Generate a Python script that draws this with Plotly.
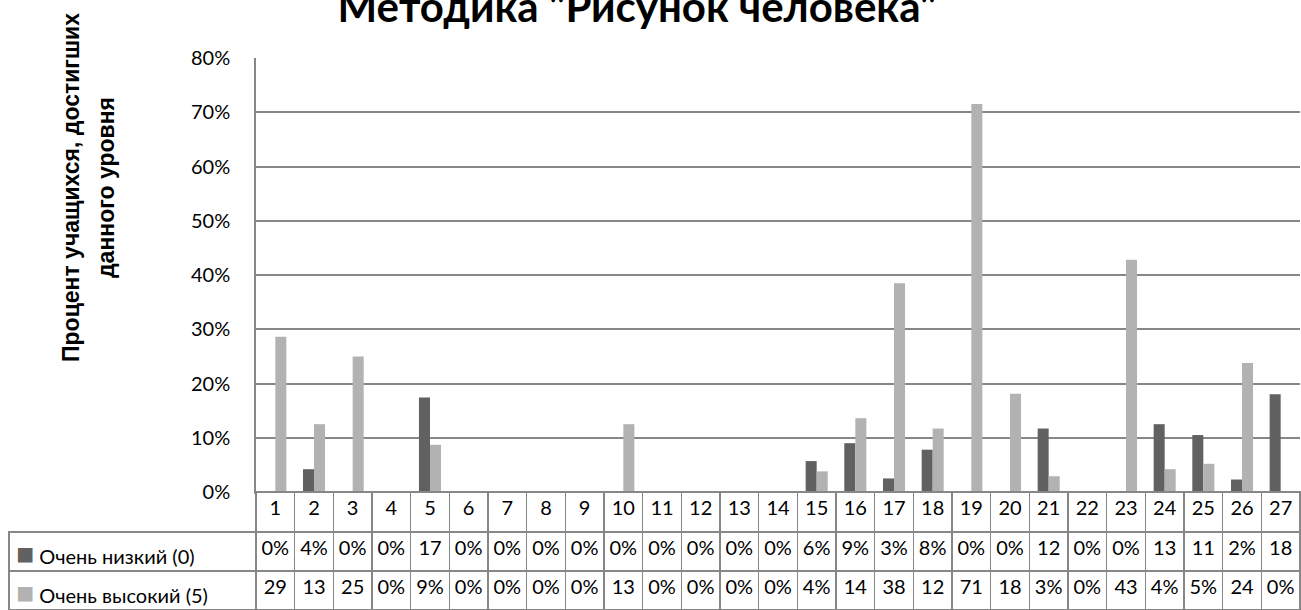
import plotly.graph_objects as go

categories = [str(i) for i in range(1, 28)]
series_names = ["Очень низкий (0)", "Очень высокий (5)"]
low_values = [0.0, 4.2, 0.0, 0.0, 17.4, 0.0, 0.0, 0.0, 0.0, 0.0, 0.0, 0.0, 0.0, 0.0,
              5.7, 9.0, 2.5, 7.8, 0.0, 0.0, 11.7, 0.0, 0.0, 12.5, 10.5, 2.3, 18.0]
high_values = [28.6, 12.5, 25.0, 0.0, 8.7, 0.0, 0.0, 0.0, 0.0, 12.5, 0.0, 0.0, 0.0, 0.0,
               3.8, 13.6, 38.5, 11.7, 71.5, 18.1, 2.9, 0.0, 42.8, 4.2, 5.2, 23.8, 0.0]
low_labels = ["0%", "4%", "0%", "0%", "17", "0%", "0%", "0%", "0%", "0%", "0%", "0%", "0%", "0%",
              "6%", "9%", "3%", "8%", "0%", "0%", "12", "0%", "0%", "13", "11", "2%", "18"]
high_labels = ["29", "13", "25", "0%", "9%", "0%", "0%", "0%", "0%", "13", "0%", "0%", "0%", "0%",
               "4%", "14", "38", "12", "71", "18", "3%", "0%", "43", "4%", "5%", "24", "0%"]
y_ticks = [0, 10, 20, 30, 40, 50, 60, 70, 80]

DARK = "#616161"
LIGHT = "#B2B2B2"
GRID = "#878787"
CLEAR = "rgba(0,0,0,0)"
W, H = 1301, 610
FONT = "Lato"

fig = go.Figure()
fig.add_trace(go.Bar(x=categories, y=[v / 100 for v in low_values], name=series_names[0],
                     marker=dict(color=DARK, line=dict(width=0)), xaxis="x", yaxis="y"))
fig.add_trace(go.Bar(x=categories, y=[v / 100 for v in high_values], name=series_names[1],
                     marker=dict(color=LIGHT, line=dict(width=0)), xaxis="x", yaxis="y"))

cell_values = [["", ""]] + [[low_labels[i], high_labels[i]] for i in range(len(categories))]

x0_px, x_plot0, x1_px = 9, 256, 1300
y_axis_px, y_top_px = 492, 58
header_h, row_h = 40, 39
col_w = (x1_px - x_plot0) / len(categories)
n = len(categories)
fig.add_trace(go.Table(
    domain=dict(x=[x0_px / W, x1_px / W], y=[0, (H - y_axis_px) / H]),
    columnwidth=[x_plot0 - x0_px] + [col_w] * n,
    header=dict(values=[""] + categories, height=header_h,
                fill=dict(color=[CLEAR] + ["white"] * n),
                line=dict(color=[CLEAR] + [GRID] * n, width=1.5),
                font=dict(family=FONT, size=20, color="black"), align="center"),
    cells=dict(values=cell_values, height=row_h,
               fill=dict(color="white"),
               line=dict(color=GRID, width=1.5),
               font=dict(family=FONT, size=20, color="black"),
               align=["left"] + ["center"] * n),
))

fig.update_layout(
    width=W, height=H,
    margin=dict(l=0, r=0, t=0, b=0, autoexpand=False),
    paper_bgcolor="white", plot_bgcolor="white",
    barmode="group", bargap=0.43, bargroupgap=0,
    showlegend=False,
    font=dict(family=FONT, color="black"),
    title=dict(text="<b>Методика \"Рисунок человека\"</b>", x=637 / W, xanchor="center",
               yref="container", y=1 - 7 / H, yanchor="middle",
               font=dict(family=FONT, size=42, color="black")),
    xaxis=dict(domain=[x_plot0 / W, x1_px / W], type="category", range=[-0.5, 26.5],
               showticklabels=False, ticks="", showline=True, linecolor=GRID, linewidth=1.5,
               showgrid=False, zeroline=False, automargin=False),
    yaxis=dict(domain=[(H - y_axis_px) / H, (H - y_top_px) / H], range=[0, 0.8],
               tickvals=[t / 100 for t in y_ticks], ticktext=[f"{t}%" for t in y_ticks],
               showline=True, linecolor=GRID, linewidth=1.5,
               showgrid=True, gridcolor=GRID, gridwidth=1.5, zeroline=False,
               ticks="", ticklabelstandoff=20, automargin=False,
               tickfont=dict(family=FONT, size=20, color="black")),
)

# legend labels inside the first table column
legend_colors = [DARK, LIGHT]
for k, name in enumerate(series_names):
    row_center = y_axis_px + header_h + row_h * k + row_h / 2
    fig.add_annotation(text=f"<span style='color:{legend_colors[k]};font-size:30px'>■</span> {name}",
                       xref="paper", yref="paper", x=(x0_px + 5) / W, y=1 - row_center / H,
                       xanchor="left", yanchor="middle", showarrow=False,
                       font=dict(family=FONT, size=20, color="black"))

fig.add_annotation(text="<b>Процент учащихся, достигших</b>", xref="paper", yref="paper",
                   x=71 / W, y=1 - 188 / H, xanchor="center", yanchor="middle",
                   textangle=-90, showarrow=False,
                   font=dict(family="Liberation Sans", size=23, color="black"))
fig.add_annotation(text="<b>данного уровня</b>", xref="paper", yref="paper",
                   x=106 / W, y=1 - 188 / H, xanchor="center", yanchor="middle",
                   textangle=-90, showarrow=False,
                   font=dict(family="Liberation Sans", size=23, color="black"))

post = ("document.documentElement.style.margin='0';document.body.style.margin='0';"
        "document.documentElement.style.overflow='hidden';document.body.style.overflow='hidden';")
fig.write_html("out.html", post_script=post, config={"displayModeBar": False})
